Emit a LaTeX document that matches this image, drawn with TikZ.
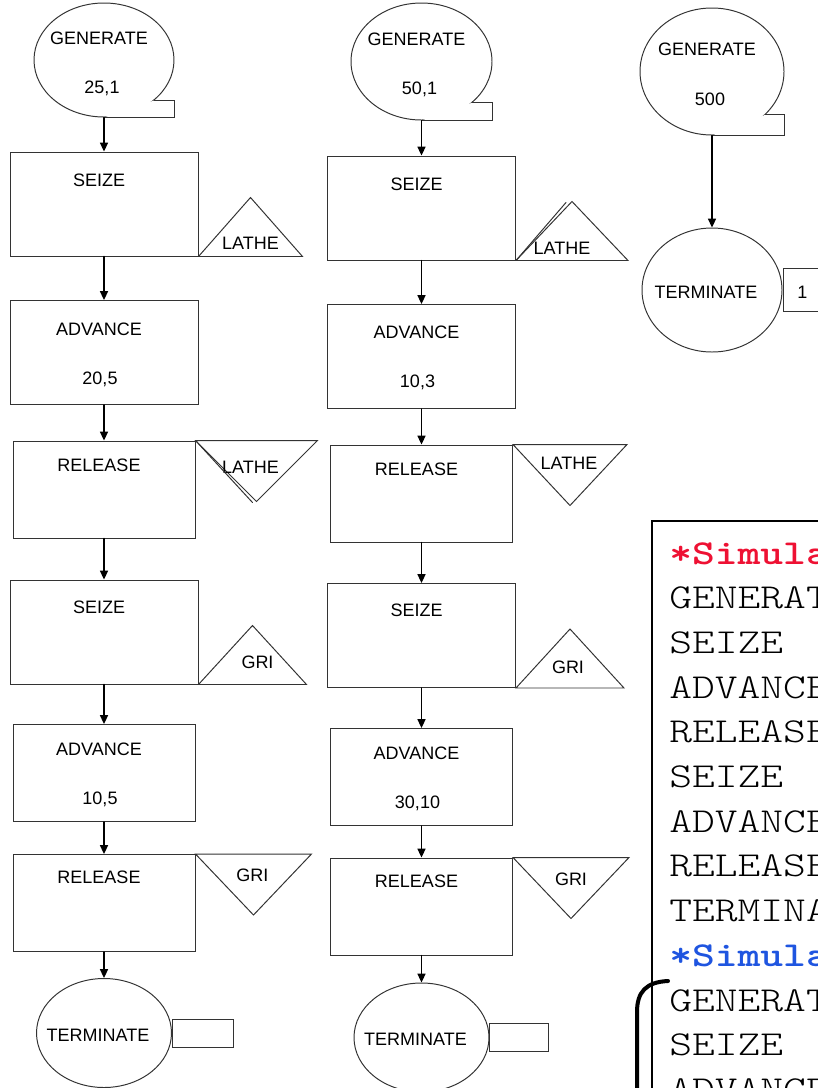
\documentclass[tikz,border=0pt]{standalone}
\usepackage{fontspec}
\setmainfont{Liberation Sans}
\usetikzlibrary{arrows.meta,positioning,calc,shapes.geometric}
\definecolor{codered}{HTML}{EE1133}
\definecolor{codeblue}{HTML}{1F55E0}
\tikzset{bigblock/.style={rectangle,draw=black!80,line width=.7pt,minimum width=47mm,minimum height=26mm,inner sep=0pt},smallblock/.style={bigblock,minimum width=45.5mm,minimum height=24.25mm},genblock/.style={ellipse,draw=black!80,line width=.7pt,inner sep=0pt},termblock/.style={ellipse,draw=black!80,line width=.7pt,inner sep=0pt},countbox/.style={rectangle,draw=black!80,line width=.7pt,inner sep=0pt,anchor=west,font=\fontsize{12.8}{15}\selectfont},txt/.style={font=\fontsize{12.8}{15}\selectfont,inner sep=0pt},storage/.style={draw=black!80,line width=.7pt},flow/.style={-{Triangle[length=2.2mm,width=2mm]},line width=1pt},codeline/.style={font=\ttfamily\fontsize{24.9}{30}\fontseries{l}\selectfont,anchor=base west,inner sep=0pt},every picture/.style={line cap=round}}

\begin{document}
\begin{tikzpicture}[x=0.25mm,y=-0.25mm]
\useasboundingbox (0,0) rectangle (818,1088);
\node[genblock,minimum width=35mm,minimum height=28.5mm] (gen1) at (104,60) {};
\node[genblock,minimum width=35.25mm,minimum height=29.25mm] (gen2) at (421.5,61.5) {};
\node[genblock,minimum width=36mm,minimum height=31.75mm] (gen3) at (712,71.5) {};
\foreach \g/\v in {gen1/{25,1},gen2/{50,1},gen3/500}{
\fill[white] (\g.south) -- (\g.-39) -- (\g.-39 -| \g.east) |- (\g.south) -- cycle;
\draw[storage] (\g.-39) -- (\g.-39 -| \g.east) |- (\g.south);
\node[txt] (\g-name) at ($(\g)+(-5,-22)$) {GENERATE};
\node[txt] (\g-val) at ($(\g)+(-2,28)$) {\v};
}
\node[bigblock] (seize1a) at (104,204) {};
\node[bigblock] (adv1a) at (104,352.5) {};
\node[smallblock] (rel1a) at (104,489.5) {};
\node[bigblock] (seize1b) at (104,632) {};
\node[smallblock] (adv1b) at (104,773) {};
\node[smallblock] (rel1b) at (104,903) {};
\node[termblock,minimum width=33.75mm,minimum height=27.25mm] (term1) at (104,1033) {};
\node[bigblock] (seize2a) at (421.5,208) {};
\node[bigblock] (adv2a) at (421.5,356.5) {};
\node[smallblock] (rel2a) at (421.5,493.5) {};
\node[bigblock] (seize2b) at (421.5,635.5) {};
\node[smallblock] (adv2b) at (421.5,777) {};
\node[smallblock] (rel2b) at (421.5,906.5) {};
\node[termblock,minimum width=33.75mm,minimum height=27.25mm] (term2) at (421.5,1037.5) {};
\node[termblock,minimum width=35mm,minimum height=31mm] (term3) at (712,290) {};
\foreach \g in {term1,term2,term3}
\node[txt] (\g-name) at ($(\g)+(-6,2)$) {TERMINATE};
\node[countbox,minimum width=15.25mm,minimum height=7mm] (term1-box) at (term1.east) {};
\node[countbox,minimum width=14.75mm,minimum height=7mm] (term2-box) at (term2.east) {};
\node[countbox,minimum width=12mm,minimum height=10.75mm] (term3-box) at (term3.east) {};
\node[txt] (term3-val) at ($(term3.east)+(20,2)$) {1};
\foreach \b/\t/\d in {seize1a/SEIZE/29,adv1a/ADVANCE/29,rel1a/RELEASE/25,seize1b/SEIZE/28,adv1b/ADVANCE/25,rel1b/RELEASE/23,seize2a/SEIZE/29,adv2a/ADVANCE/28,rel2a/RELEASE/25,seize2b/SEIZE/27,adv2b/ADVANCE/25,rel2b/RELEASE/24}
\node[txt] (\b-name) at ($(\b.north)+(-5,\d)$) {\t};
\foreach \b/\v/\d in {adv1a/{20,5}/79,adv1b/{10,5}/75,adv2a/{10,3}/78,adv2b/{30,10}/75}
\node[txt] (\b-val) at ($(\b.north)+(-4,\d)$) {\v};
\foreach \b/\t/\w/\tx/\ty in {seize1a/LATHE/52/52/13,seize1b/GRI/54/59/22,seize2a/LATHE/56/46/12,seize2b/GRI/54/52/21}{
\draw[storage] (\b.south east) -- ++(\w,-59) -- ++(\w,59) -- cycle;
\node[txt] (\b-fac) at ($(\b.south east)+(\tx,-\ty)$) {\t};
}
\foreach \b/\t/\w/\tx/\ty in {rel1a/LATHE/61/55/27,rel1b/GRI/58/57/21,rel2a/LATHE/57/56/19,rel2b/GRI/58/58/22}{
\draw[storage] (\b.north east) -- ++(\w,61) -- ++(\w,-61) -- cycle;
\node[txt] (\b-fac) at ($(\b.north east)+(\tx,\ty)$) {\t};
}
\draw[storage] (rel1a.north east) -- ++(57,62);
\draw[storage] (seize2a.south east) -- ++(50,-58);
\foreach \a/\b in {gen1/seize1a,seize1a/adv1a,adv1a/rel1a,rel1a/seize1b,seize1b/adv1b,adv1b/rel1b,rel1b/term1,gen2/seize2a,seize2a/adv2a,adv2a/rel2a,rel2a/seize2b,seize2b/adv2b,adv2b/rel2b,rel2b/term2,gen3/term3}
\draw[flow] (\a.south) -- (\b.north);
\draw[line width=1.8pt] (652,521) rectangle (900,1200);
\node[codeline,codered] (line0) at (669,564) {\bfseries\scalebox{1.24}[1]{*Simula}};
\node[codeline,codeblue] (line9) at (669,966.3) {\bfseries\scalebox{1.24}[1]{*Simula}};
\foreach \k/\t in {1/GENERAT,2/SEIZE,3/ADVANCE,4/RELEASE,5/SEIZE,6/ADVANCE,7/RELEASE,8/TERMINA,10/GENERAT,11/SEIZE,12/ADVANCE}
\node[codeline] (line\k) at (669,{564+44.7*\k}) {\scalebox{1.24}[1]{\t}};
\draw[line width=1mm] (668,981) .. controls (646,982) and (637,992) .. (637,1012) -- (637,1100);
\end{tikzpicture}
\end{document}
